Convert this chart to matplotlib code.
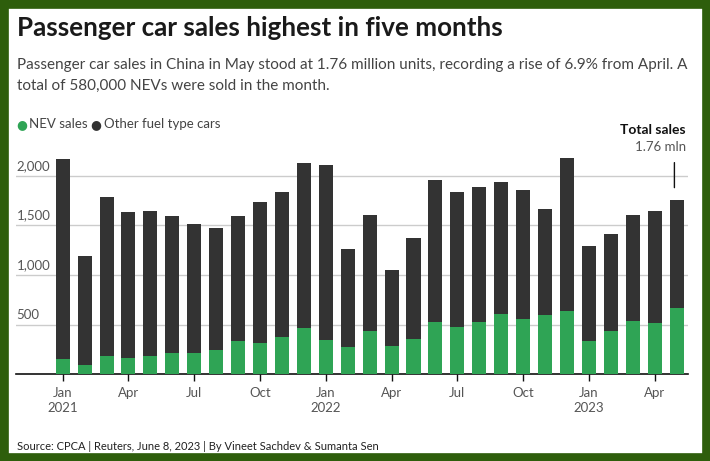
import matplotlib
matplotlib.use("Agg")
import matplotlib.pyplot as plt
from matplotlib.patches import Rectangle
import numpy as np

# monthly passenger car sales, thousand units (Jan 2021 - May 2023)
months = ["Jan", "Feb", "Mar", "Apr", "May", "Jun", "Jul", "Aug", "Sep", "Oct", "Nov", "Dec",
          "Jan", "Feb", "Mar", "Apr", "May", "Jun", "Jul", "Aug", "Sep", "Oct", "Nov", "Dec",
          "Jan", "Feb", "Mar", "Apr", "May"]
years = [2021] * 12 + [2022] * 12 + [2023] * 5
total_sales = [2168, 1188, 1786, 1634, 1648, 1594, 1514, 1470, 1594, 1732, 1836, 2128,
               2108, 1262, 1604, 1050, 1369, 1957, 1836, 1886, 1937, 1856, 1661, 2178,
               1292, 1413, 1604, 1644, 1752]
nev_sales = [154, 94, 184, 168, 184, 218, 218, 245, 335, 319, 376, 470,
             345, 272, 439, 282, 359, 530, 480, 530, 611, 554, 594, 638,
             335, 439, 540, 520, 668]
other_sales = [t - n for t, n in zip(total_sales, nev_sales)]

GREEN = "#2fa455"
DARK = "#333333"
FONT = "Lato"

fig = plt.figure(figsize=(7.1, 4.61), dpi=100)
fig.patch.set_facecolor("white")

# dark green frame
frame = "#2e5e0c"
fig.patches.append(Rectangle((0, 0), 1, 1, transform=fig.transFigure, fill=False,
                             edgecolor=frame, linewidth=12, zorder=10))

ax = fig.add_axes([16 / 710, (461 - 374.3) / 461, 672 / 710, 223.4 / 461])
x = np.arange(len(months))
ax.bar(x, nev_sales, width=0.64, color=GREEN, zorder=3)
ax.bar(x, other_sales, width=0.64, bottom=nev_sales, color=DARK, zorder=3)

ax.set_xlim(-2.13, 28.52)
ax.set_ylim(0, 2250)

for s in ["top", "right", "left"]:
    ax.spines[s].set_visible(False)
ax.spines["bottom"].set_color("#111111")
ax.spines["bottom"].set_linewidth(1.2)

# gridlines with labels above them on the left
for v in [500, 1000, 1500, 2000]:
    ax.axhline(v, color="#cccccc", linewidth=1, zorder=1)
    ax.text(-2.1, v + 40, f"{v:,}", ha="left", va="bottom", fontsize=9.5,
            color="#555555", family=FONT)
ax.set_yticks([])

ticks = [i for i in x if i % 3 == 0]
labels = []
for i in ticks:
    lab = months[i]
    if lab == "Jan":
        lab += "\n" + str(years[i])
    labels.append(lab)
ax.set_xticks(ticks)
ax.set_xticklabels(labels, fontsize=9.5, color="#555555", family=FONT, linespacing=1.35)
ax.tick_params(axis="x", length=5, width=1, color="#111111", pad=4)
for t in ax.get_xticklabels():
    t.set_verticalalignment("top")

# annotation for latest month
ax.annotate("", xy=(28 - 0.1, 1752 + 100), xytext=(28 - 0.1, 2160),
            arrowprops=dict(arrowstyle="-", color="#111111", lw=1))
fig.text(686 / 710, 1 - 130 / 461, "Total sales", ha="right", va="center",
         fontsize=10, fontweight="bold", color="#111111", family=FONT)
fig.text(686 / 710, 1 - 147 / 461, "1.76 mln", ha="right", va="center",
         fontsize=9.5, color="#555555", family=FONT)

# title block
fig.text(17 / 710, 1 - 36 / 461, "Passenger car sales highest in five months",
         ha="left", va="baseline", fontsize=18.7, fontweight="bold", color="#1a1a1a", family=FONT)
fig.text(17 / 710, 1 - 69 / 461,
         "Passenger car sales in China in May stood at 1.76 million units, recording a rise of 6.9% from April. A",
         ha="left", va="baseline", fontsize=11, color="#444444", family=FONT)
fig.text(17 / 710, 1 - 90 / 461, "total of 580,000 NEVs were sold in the month.",
         ha="left", va="baseline", fontsize=11, color="#444444", family=FONT)

# legend
fig.text(16 / 710, 1 - 124.5 / 461, "\u25CF", ha="left", va="center", fontsize=9,
         color=GREEN, family="DejaVu Sans")
fig.text(29 / 710, 1 - 124.5 / 461, "NEV sales", ha="left", va="center", fontsize=9.5,
         color="#444444", family=FONT)
fig.text(90 / 710, 1 - 124.5 / 461, "\u25CF", ha="left", va="center", fontsize=9,
         color=DARK, family="DejaVu Sans")
fig.text(104 / 710, 1 - 124.5 / 461, "Other fuel type cars", ha="left", va="center",
         fontsize=9.5, color="#444444", family=FONT)

fig.text(17 / 710, 1 - 450 / 461,
         "Source: CPCA | Reuters, June 8, 2023 | By Vineet Sachdev & Sumanta Sen",
         ha="left", va="baseline", fontsize=8, color="#222222", family=FONT)

fig.savefig("out.png", dpi=100)
